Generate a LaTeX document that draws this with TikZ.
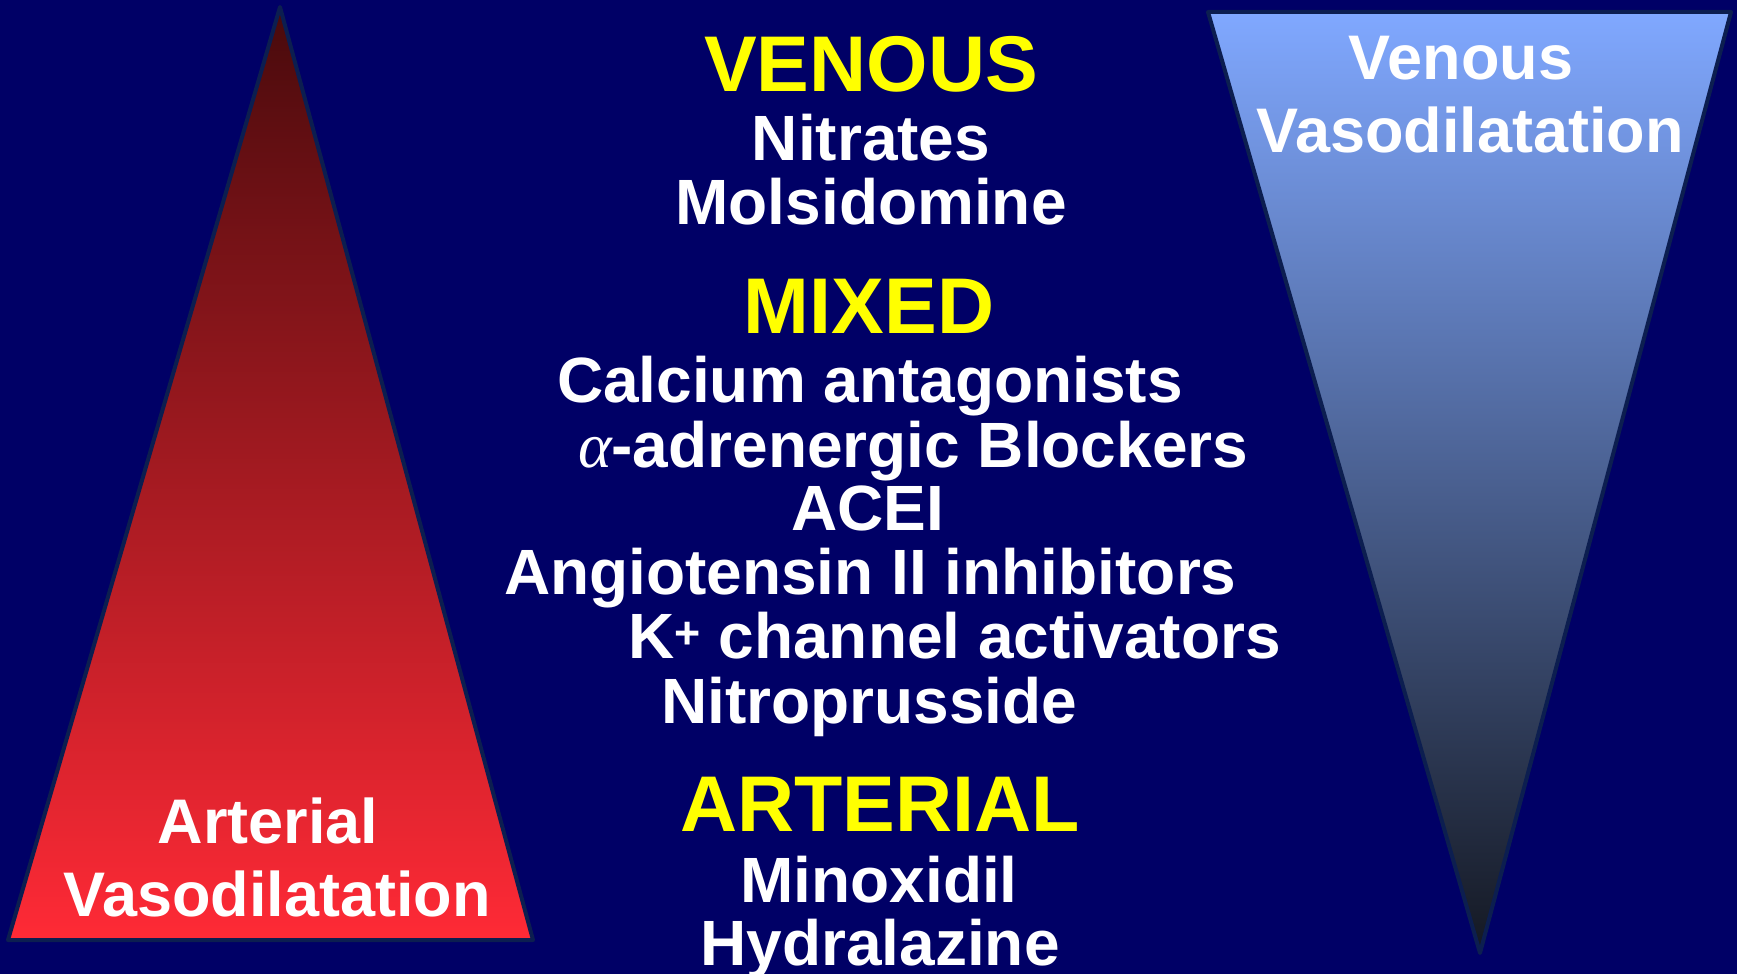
\documentclass[tikz,border=0pt]{standalone}
\usepackage{fontspec}
\setmainfont{Liberation Sans}
\newfontfamily\alphafont{Liberation Serif}
\definecolor{bgnavy}{RGB}{0,0,102}
\definecolor{edgenavy}{RGB}{12,30,80}
\definecolor{hdyellow}{RGB}{255,255,0}
\definecolor{redtop}{RGB}{72,10,12}
\definecolor{redmid}{RGB}{210,36,46}
\definecolor{redbot}{RGB}{255,42,54}
\definecolor{bluetop}{RGB}{128,168,255}
\definecolor{bluemid}{RGB}{110,144,216}
\definecolor{bluebot}{RGB}{20,24,34}
\tikzset{
  txt/.style={inner sep=0pt, outer sep=0pt, text=white, font=\fontsize{64}{64}\selectfont\bfseries},
  head/.style={inner sep=0pt, outer sep=0pt, text=hdyellow, font=\fontsize{79}{79}\selectfont\bfseries},
  lbl/.style={inner sep=0pt, outer sep=0pt, text=white, font=\fontsize{63}{63}\selectfont\bfseries},
  tri/.style={draw=edgenavy, line width=4pt, line join=round}
}
\begin{document}
\begin{tikzpicture}[x=1pt,y=-1pt]
\useasboundingbox (0,0) rectangle (1737,974);
\fill[bgnavy] (0,0) rectangle (1737,974);
% triangles
\coordinate (la) at (280,7);
\coordinate (ll) at (8,940);
\coordinate (lr) at (533,940);
\coordinate (rl) at (1208,12);
\coordinate (rr) at (1731,12);
\coordinate (rb) at (1480,953);
\shade[top color=redtop, middle color=redmid, bottom color=redbot] (la) -- (lr) -- (ll) -- cycle;
\draw[tri] (la) -- (lr) -- (ll) -- cycle;
\shade[top color=bluetop, middle color=bluemid, bottom color=bluebot] (rl) -- (rr) -- (rb) -- cycle;
\draw[tri] (rl) -- (rr) -- (rb) -- cycle;
% triangle labels
\node[lbl, anchor=base] (art) at (268,843) {Arterial};
\node[lbl, anchor=base] (avaso) at (277,916) {Vasodilatation};
\node[lbl, anchor=base] (ven) at (1461,79) {Venous};
\node[lbl, anchor=base] (vvaso) at (1470,152) {Vasodilatation};
% venous
\node[head, anchor=base] (venh) at (871,91) {VENOUS};
\node[txt, anchor=base] (nitr) at (871,160) {Nitrates};
\node[txt, anchor=base] (mols) at (871,224) {Molsidomine};
% mixed
\node[head, anchor=base] (mixh) at (869,333) {MIXED};
\node[txt, anchor=base west] (calc) at (557,402) {Calcium antagonists};
\node[txt, anchor=base west] (alph) at (578,467) {{\alphafont\mdseries\itshape α}-adrenergic Blockers};
\node[txt, anchor=base] (acei) at (868,530) {ACEI};
\node[txt, anchor=base west] (angi) at (504,594) {Angiotensin II inhibitors};
\node[txt, anchor=base west] (kch) at (628,658) {K\textsuperscript{+} channel activators};
\node[txt, anchor=base west] (nitp) at (661,723) {Nitroprusside};
% arterial
\node[head, anchor=base] (arth) at (880,831) {ARTERIAL};
\node[txt, anchor=base] (minx) at (879,902) {Minoxidil};
\node[txt, anchor=base] (hydr) at (880,965) {Hydralazine};
\end{tikzpicture}
\end{document}
